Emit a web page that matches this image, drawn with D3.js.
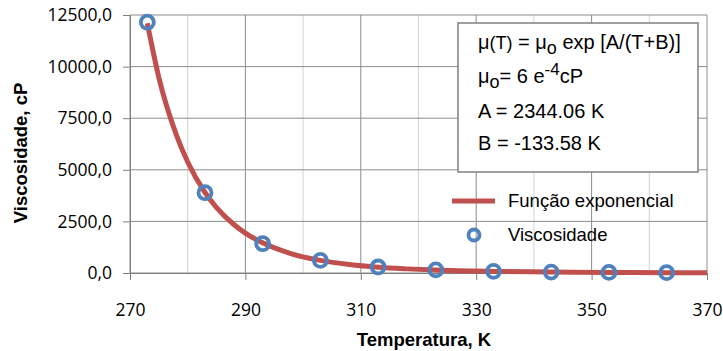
<!DOCTYPE html>
<html>
<head>
<meta charset="utf-8">
<script src="https://cdn.jsdelivr.net/npm/d3@7"></script>
<style>
  html, body { margin: 0; padding: 0; background: #fff; }
  svg { display: block; }
</style>
</head>
<body>
<svg id="chart" width="723" height="351"></svg>
<script>
// measured points (K, cP)
const tempK = [273, 283, 293, 303, 313, 323, 333, 343, 353, 363];
const viscosity = [12150, 3890, 1420, 610, 290, 150, 80, 45, 28, 17];

// fitted curve
const curveT = [273, 275, 278, 280, 283, 285, 288, 290, 293, 298, 303, 308, 313, 318, 323, 333, 343, 353, 363, 370];
const curveV = [12100, 9470, 6720, 5380, 3900, 3170, 2350, 1930, 1460, 930, 610, 410, 280, 200, 140, 76, 44, 26, 16, 12];

const xTicks = [270, 290, 310, 330, 350, 370];
const xMinor = [280, 300, 320, 340, 360];
const yTicks = [0, 2500, 5000, 7500, 10000, 12500];

const boxLines = ["A = 2344.06 K", "B = -133.58 K"];

const red = "#c0504d";
const blue = "#4f81bd";
const tickFont = "'Open Sans', 'Liberation Sans', sans-serif";
const textFont = "'Liberation Sans', Arial, sans-serif";

const svg = d3.select("#chart");
const x = d3.scaleLinear().domain([270, 370]).range([130, 707]);
const y = d3.scaleLinear().domain([0, 12500]).range([273, 15]);

const ptBR = d3.formatLocale({ decimal: ",", thousands: "", grouping: [3], currency: ["", ""] });
const fmt = ptBR.format(".1f");

// minor vertical grid
svg.append("g").selectAll("line").data(xMinor).join("line")
  .attr("x1", d => x(d)).attr("x2", d => x(d))
  .attr("y1", y(12500)).attr("y2", y(0))
  .attr("stroke", "#d4d4d4").attr("stroke-width", 1);

// major vertical grid
svg.append("g").selectAll("line").data(xTicks).join("line")
  .attr("x1", d => x(d)).attr("x2", d => x(d))
  .attr("y1", y(12500)).attr("y2", y(0))
  .attr("stroke", "#8c8c8c").attr("stroke-width", 1);

// horizontal grid
svg.append("g").selectAll("line").data(yTicks).join("line")
  .attr("x1", x(270)).attr("x2", x(370))
  .attr("y1", d => y(d)).attr("y2", d => y(d))
  .attr("stroke", "#8c8c8c").attr("stroke-width", 1);

// axes
const yAxis = svg.append("g")
  .attr("transform", `translate(${x(270)},0)`)
  .call(d3.axisLeft(y).tickValues(yTicks).tickSize(7).tickPadding(11).tickFormat(fmt));
const xAxis = svg.append("g")
  .attr("transform", `translate(0,${y(0)})`)
  .call(d3.axisBottom(x).tickValues(xTicks).tickSize(7).tickPadding(24).tickFormat(d3.format("d")));

[yAxis, xAxis].forEach(a => {
  a.select(".domain").attr("stroke", "#7f7f7f");
  a.selectAll(".tick line").attr("stroke", "#7f7f7f");
  a.selectAll("text").attr("fill", "#000")
    .style("font-family", tickFont).style("font-size", "17.5px");
});

// fitted curve
const line = d3.line()
  .x((d, i) => x(curveT[i]))
  .y(d => y(d))
  .curve(d3.curveMonotoneX);

svg.append("path")
  .datum(curveV)
  .attr("d", line)
  .attr("fill", "none")
  .attr("stroke", red)
  .attr("stroke-width", 5)
  .attr("stroke-linecap", "butt");

// data markers
svg.append("g").selectAll("circle").data(viscosity).join("circle")
  .attr("cx", (d, i) => x(tempK[i]))
  .attr("cy", d => y(d))
  .attr("r", 6.5)
  .attr("fill", "none")
  .attr("stroke", blue)
  .attr("stroke-width", 3.8);

// axis titles
svg.append("text")
  .attr("x", 424).attr("y", 346)
  .attr("text-anchor", "middle")
  .style("font-family", textFont).style("font-weight", "bold").style("font-size", "18.5px")
  .text("Temperatura, K");

svg.append("text")
  .attr("transform", "translate(27,153) rotate(-90)")
  .attr("text-anchor", "middle")
  .style("font-family", textFont).style("font-weight", "bold").style("font-size", "18.5px")
  .text("Viscosidade, cP");

// equation box
const box = svg.append("g");
box.append("rect")
  .attr("x", 458).attr("y", 23).attr("width", 240).attr("height", 149)
  .attr("fill", "#fff").attr("stroke", "#808080").attr("stroke-width", 1.5);

const eq = box.append("text").attr("x", 478).attr("y", 49)
  .style("font-family", textFont).style("font-size", "20px");
eq.append("tspan").text("μ");
eq.append("tspan").style("font-size", "18px").text("(T)");
eq.append("tspan").text(" = μ");
eq.append("tspan").attr("dy", 5).style("font-size", "18px").text("o");
eq.append("tspan").attr("dy", -5).text(" exp [A/(T+B)]");

const mu0 = box.append("text").attr("x", 478).attr("y", 83)
  .style("font-family", textFont).style("font-size", "20px");
mu0.append("tspan").text("μ");
mu0.append("tspan").attr("dy", 5).style("font-size", "18px").text("o");
mu0.append("tspan").attr("dy", -5).text("= 6 e");
mu0.append("tspan").attr("dy", -8).style("font-size", "17px").text("-4");
mu0.append("tspan").attr("dy", 8).text("cP");

box.selectAll("text.ab").data(boxLines).join("text")
  .attr("class", "ab")
  .attr("x", 478).attr("y", (d, i) => 118 + i * 32)
  .style("font-family", textFont).style("font-size", "20px")
  .text(d => d);

// legend
const leg = svg.append("g");
leg.append("line")
  .attr("x1", 452).attr("x2", 495).attr("y1", 201).attr("y2", 201)
  .attr("stroke", red).attr("stroke-width", 5);
leg.append("circle")
  .attr("cx", 474).attr("cy", 235).attr("r", 5.5)
  .attr("fill", "none").attr("stroke", blue).attr("stroke-width", 3.8);
leg.selectAll("text").data(["Função exponencial", "Viscosidade"]).join("text")
  .attr("x", 508).attr("y", (d, i) => 207 + i * 34)
  .style("font-family", textFont).style("font-size", "18.5px")
  .text(d => d);
</script>
</body>
</html>
